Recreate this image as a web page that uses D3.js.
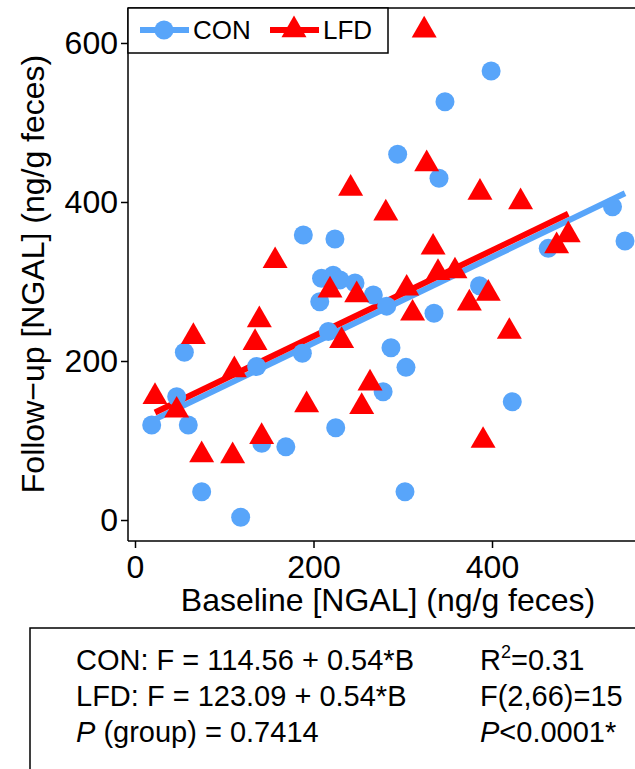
<!DOCTYPE html>
<html lang="en">
<head>
<meta charset="UTF-8">
<script src="https://cdn.jsdelivr.net/npm/d3@7"></script>
<title>NGAL baseline vs follow-up</title>
<style>
  body { margin: 0; background: #fff; }
  svg text { font-family: "Liberation Sans", Arial, sans-serif; fill: #000; }
</style>
</head>
<body>
<div id="chart"></div>
<script>
// groups
const groups = ["CON", "LFD"];
const intercepts = [114.56, 123.09];
const slopes = [0.54, 0.54];

// CON points: baseline, follow-up
const conBase = [18.7, 46.7, 59.7, 55.3, 74.7, 118.4, 136.3, 142, 169, 187.5, 224.9, 216.6, 207,
  209, 222, 229.7, 246.5, 267, 282, 335, 386, 286.8, 303.6, 278, 422.7, 302.5,
  399, 347.3, 294.3, 340.6, 535, 549, 463, 188.6, 224];
const conFollow = [119.5, 155, 119.5, 211, 35.6, 3.4, 193, 96.4, 92, 209.7, 116, 237, 274.6,
  304, 308, 302, 298, 283, 269, 260, 294.7, 216.7, 192, 161.4, 148.8, 35.6,
  564.8, 526, 460, 429.8, 394, 351, 341.7, 358.5, 353.5];

// LFD points
const lfdBase = [22.4, 46.7, 65.4, 74.7, 109.4, 139.3, 134.5, 111.3, 141.9, 192.3, 157, 218.5,
  248.4, 231.5, 263.3, 254, 304.4, 339.5, 358.5, 311, 374.6, 395.8, 419.4, 390,
  324, 326.8, 281, 386.5, 432, 334, 472.4, 485.4, 241.6];
const lfdFollow = [155, 138, 230.6, 81.8, 80.5, 251.6, 223, 188.7, 104.8, 144.7, 326, 289,
  283, 225.5, 172, 142.5, 291.4, 311, 313, 260, 272.6, 285, 237, 99.8,
  616, 447.8, 385.8, 412, 400, 343, 344.6, 358.5, 417];

const xTicks = [0, 200, 400];
const yTicks = [0, 200, 400, 600];

const blue = "#58a5fa", red = "#ff0000";

const width = 635, height = 769;
const plot = {left: 128, right: 635, top: 8, bottom: 541};

const svg = d3.select("#chart").append("svg")
  .attr("width", width).attr("height", height);

const xScale = d3.scaleLinear().domain([-7.84, 560.2]).range([plot.left, plot.right]);
const yScale = d3.scaleLinear().domain([-26.4, 644]).range([plot.bottom, plot.top]);

// axes
const gx = svg.append("g").attr("transform", `translate(0,${plot.bottom})`)
  .call(d3.axisBottom(xScale).tickValues(xTicks).tickSize(7).tickSizeOuter(0).tickPadding(7));
const gy = svg.append("g").attr("transform", `translate(${plot.left},0)`)
  .call(d3.axisLeft(yScale).tickValues(yTicks).tickSize(7).tickSizeOuter(0).tickPadding(3));
[gx, gy].forEach(g => {
  g.selectAll("path.domain").attr("stroke", "#000").attr("stroke-width", 1.5);
  g.selectAll(".tick line").attr("stroke", "#000").attr("stroke-width", 1.5);
  g.selectAll(".tick text").attr("font-size", 32).attr("font-family", "Liberation Sans, Arial, sans-serif");
});
gy.select("path.domain").attr("d", `M0,${plot.bottom}V${plot.top}`);
gx.select("path.domain").attr("d", `M${plot.left},0H${plot.right}`);

// top border
svg.append("line")
  .attr("x1", plot.left).attr("x2", plot.right)
  .attr("y1", plot.top).attr("y2", plot.top)
  .attr("stroke", "#000").attr("stroke-width", 1.5);

// axis titles
svg.append("text")
  .attr("x", 388).attr("y", 611)
  .attr("text-anchor", "middle").attr("font-size", 32)
  .text("Baseline [NGAL] (ng/g feces)");
svg.append("text")
  .attr("transform", "translate(44,274) rotate(-90)")
  .attr("text-anchor", "middle").attr("font-size", 32)
  .text("Follow\u2212up [NGAL] (ng/g feces)");

// fitted lines
const conX = d3.extent(conBase), lfdX = d3.extent(lfdBase);
const fits = [
  {x: conX, a: intercepts[0], b: slopes[0], color: blue},
  {x: lfdX, a: intercepts[1], b: slopes[1], color: red}
];
svg.selectAll("line.fit").data(fits).enter().append("line")
  .attr("class", "fit")
  .attr("x1", d => xScale(d.x[0])).attr("y1", d => yScale(d.a + d.b * d.x[0]))
  .attr("x2", d => xScale(d.x[1])).attr("y2", d => yScale(d.a + d.b * d.x[1]))
  .attr("stroke", d => d.color).attr("stroke-width", 6);

// markers
const tri = d3.symbol().type(d3.symbolTriangle).size(270);

svg.append("g").selectAll("circle")
  .data(d3.zip(conBase, conFollow)).enter().append("circle")
  .attr("cx", d => xScale(d[0])).attr("cy", d => yScale(d[1]))
  .attr("r", 9.5).attr("fill", blue);

svg.append("g").selectAll("path")
  .data(d3.zip(lfdBase, lfdFollow)).enter().append("path")
  .attr("d", tri)
  .attr("transform", d => `translate(${xScale(d[0])},${yScale(d[1])})`)
  .attr("fill", red);

// legend
const leg = svg.append("g");
leg.append("rect").attr("x", 128).attr("y", 8).attr("width", 260).attr("height", 45)
  .attr("fill", "#fff").attr("stroke", "#000").attr("stroke-width", 1.5);
const legItems = [
  {name: groups[0], color: blue, x: 140, shape: "circle"},
  {name: groups[1], color: red, x: 270, shape: "tri"}
];
legItems.forEach(it => {
  leg.append("line").attr("x1", it.x).attr("x2", it.x + 49).attr("y1", 30).attr("y2", 30)
    .attr("stroke", it.color).attr("stroke-width", 6);
  if (it.shape === "circle") {
    leg.append("circle").attr("cx", it.x + 24).attr("cy", 30).attr("r", 9.5).attr("fill", it.color);
  } else {
    leg.append("path").attr("d", tri).attr("transform", `translate(${it.x + 24},30)`).attr("fill", it.color);
  }
  leg.append("text").attr("x", it.x + 53).attr("y", 39).attr("font-size", 26).text(it.name);
});

// stats box
svg.append("rect").attr("x", 30).attr("y", 628).attr("width", 640).attr("height", 160)
  .attr("fill", "none").attr("stroke", "#000").attr("stroke-width", 1.5);
const fmt = d3.format(".2f");
const leftLines = groups.map((g, i) => `${g}: F = ${fmt(intercepts[i])} + ${fmt(slopes[i])}*B`);
const fs = 29;
leftLines.forEach((s, i) => {
  svg.append("text").attr("x", 76).attr("y", 670 + i * 36).attr("font-size", fs).text(s);
});
const t3 = svg.append("text").attr("x", 76).attr("y", 742).attr("font-size", fs);
t3.append("tspan").attr("font-style", "italic").text("P");
t3.append("tspan").text(" (group) = 0.7414");

const r1 = svg.append("text").attr("x", 480).attr("y", 670).attr("font-size", fs);
r1.append("tspan").text("R");
r1.append("tspan").attr("font-size", 18).attr("dy", -12).text("2");
r1.append("tspan").attr("dy", 12).text("=0.31");
svg.append("text").attr("x", 480).attr("y", 706).attr("font-size", fs).text("F(2,66)=15");
const r3 = svg.append("text").attr("x", 480).attr("y", 742).attr("font-size", fs);
r3.append("tspan").attr("font-style", "italic").text("P");
r3.append("tspan").text("<0.0001*");
</script>
</body>
</html>
